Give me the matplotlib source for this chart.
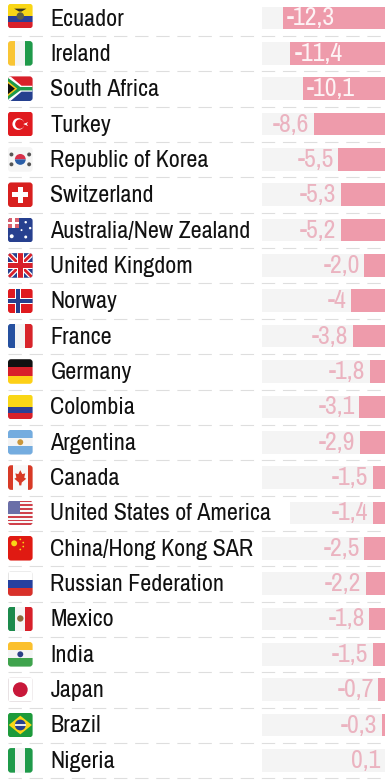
import matplotlib
matplotlib.use("Agg")
import matplotlib.pyplot as plt
from matplotlib import font_manager as fm
from matplotlib.patches import FancyBboxPatch, Rectangle, Circle, Polygon, Wedge

countries = ["Ecuador", "Ireland", "South Africa", "Turkey", "Republic of Korea", "Switzerland",
             "Australia/New Zealand", "United Kingdom", "Norway", "France", "Germany", "Colombia",
             "Argentina", "Canada", "United States of America", "China/Hong Kong SAR",
             "Russian Federation", "Mexico", "India", "Japan", "Brazil", "Nigeria"]
# Bar lengths as drawn in the picture (United Kingdom and South Africa are drawn off their printed label)
bar_values = [-12.3, -11.4, -9.9, -8.6, -5.6, -5.3, -5.3, -2.5, -4.1, -3.9, -1.8, -3.1, -3.0, -1.5,
              -1.5, -2.5, -2.3, -1.9, -1.5, -0.8, -0.4, 0.1]
value_labels = ["-12,3", "-11,4", "-10,1", "-8,6", "-5,5", "-5,3", "-5,2", "-2,0", "-4", "-3,8", "-1,8",
                "-3,1", "-2,9", "-1,5", "-1,4", "-2,5", "-2,2", "-1,8", "-1,5", "-0,7", "-0,3", "0,1"]

names = {f.name for f in fm.fontManager.ttflist}
FONT = next(n for n in ["Archivo Narrow", "Roboto Condensed", "Liberation Sans", "DejaVu Sans"] if n in names)
W, H = 389, 781
fig = plt.figure(figsize=(W / 100, H / 100), dpi=100, facecolor="white")
page = fig.add_axes([0, 0, 1, 1])
page.set_xlim(0, W); page.set_ylim(H, 0); page.axis("off")

PINK = "#ee9bab"; GREY = "#f4f4f4"; LABEL = "#ebb3c0"
ROW0, PITCH = 18.0, 35.35
for i, name in enumerate(countries):
    y = ROW0 + i * PITCH
    page.plot([8, 385], [y + 18, y + 18], color="#dedede", lw=0.8, dashes=(12, 7))
    page.text(50.5, y + 7.5, name, family=FONT, fontsize=17.3, color="#111111", va="baseline", ha="left")

XMIN = -14.8  # value at the left edge of the grey band
bars = fig.add_axes([262 / W, 0, 123 / W, 1])
bars.set_xlim(XMIN, 0)
bars.set_ylim((H - ROW0) / PITCH, -ROW0 / PITCH)
bars.axis("off"); bars.patch.set_alpha(0)
for i, (v, lab) in enumerate(zip(bar_values, value_labels)):
    left = XMIN if countries[i] != "United States of America" else -11.4
    bars.barh(i, -left, left=left, height=0.64, color=GREY, zorder=1)
    if v < 0:
        bars.barh(i, -v, left=v, height=0.64, color=PINK, zorder=2)
    base = i + 7.5 / PITCH
    if v <= -9:
        bars.text(v + 0.5, base, lab, family=FONT, fontsize=18.6, color="#fdf3f5", va="baseline", ha="left", zorder=3)
    else:
        bars.text(min(v, 0) - 0.55, base, lab, family=FONT, fontsize=18.6, color=LABEL, va="baseline", ha="right", zorder=3)


def flag(i, draw):
    y = ROW0 + i * PITCH - (2 if i == 0 else 0)
    x0, y0, w, h = 8, y - 12.3, 24.6, 24.6
    clip = FancyBboxPatch((x0 + 3, y0 + 3), w - 6, h - 6, boxstyle="round,pad=3", fc="none", ec="none")
    page.add_patch(clip)
    def add(p):
        page.add_patch(p); p.set_clip_path(clip)
    def R(a, b, c, d, col):
        add(Rectangle((x0 + a * w, y0 + b * h), c * w, d * h, fc=col, ec="none"))
    def C(a, b, r, col):
        add(Circle((x0 + a * w, y0 + b * h), r * w, fc=col, ec="none"))
    def P(pts, col):
        add(Polygon([(x0 + a * w, y0 + b * h) for a, b in pts], fc=col, ec="none"))
    def Wd(a, b, r, t1, t2, col):
        add(Wedge((x0 + a * w, y0 + b * h), r * w, t1, t2, fc=col, ec="none"))
    draw(R, C, P, Wd)

def tricolor_v(a, b, c, s=0.29):
    return lambda R, C, P, Wd: (R(0, 0, 1, 1, b), R(0, 0, s, 1, a), R(1 - s, 0, s, 1, c))
def tricolor_h(a, b, c):
    return lambda R, C, P, Wd: (R(0, 0, 1, 1/3, a), R(0, 1/3, 1, 1/3, b), R(0, 2/3, 1, 1/3, c))

def turkey(R, C, P, Wd):
    R(0, 0, 1, 1, "#e01a1f"); C(.42, .5, .24, "white"); C(.48, .5, .19, "#e01a1f")
    P([(.62, .5), (.82, .42), (.76, .5), (.82, .58)], "white")
def korea(R, C, P, Wd):
    R(0, 0, 1, 1, "#f5f5f5"); Wd(.5, .5, .22, 180, 360, "#d9304a"); Wd(.5, .5, .22, 0, 180, "#2a5ea8")
    for a, b in [(.14, .3), (.86, .3), (.14, .7), (.86, .7)]:
        C(a, b, .08, "#555555")
def swiss(R, C, P, Wd):
    R(0, 0, 1, 1, "#d8201f"); R(.39, .17, .22, .66, "white"); R(.17, .39, .66, .22, "white")
def aus(R, C, P, Wd):
    R(0, 0, 1, 1, "#27408f"); R(0, 0, .45, .4, "#d9606e"); R(0, .16, .45, .08, "white"); R(.18, 0, .09, .4, "white")
    for a, b, r in [(.72, .18, .05), (.9, .42, .05), (.72, .78, .06), (.55, .5, .04), (.15, .75, .08)]:
        C(a, b, r, "white")
def uk(R, C, P, Wd):
    R(0, 0, 1, 1, "#25408f")
    P([(0, 0), (.15, 0), (1, .85), (1, 1), (.85, 1), (0, .15)], "white")
    P([(1, 0), (.85, 0), (0, .85), (0, 1), (.15, 1), (1, .15)], "white")
    P([(0, 0), (.08, 0), (1, .92), (1, 1), (.92, 1), (0, .08)], "#d8202a")
    P([(1, 0), (.92, 0), (0, .92), (0, 1), (.08, 1), (1, .08)], "#d8202a")
    R(.35, 0, .3, 1, "white"); R(0, .35, 1, .3, "white")
    R(.41, 0, .18, 1, "#d8202a"); R(0, .41, 1, .18, "#d8202a")
def norway(R, C, P, Wd):
    R(0, 0, 1, 1, "#e01a1f"); R(.28, 0, .26, 1, "white"); R(0, .37, 1, .26, "white")
    R(.34, 0, .13, 1, "#25408f"); R(0, .44, 1, .13, "#25408f")
def ecuador(R, C, P, Wd):
    R(0, 0, 1, .5, "#f9d616"); R(0, .5, 1, .25, "#2b3f96"); R(0, .75, 1, .25, "#d8202a")
    C(.5, .5, .15, "#5f5f45"); P([(.25, .2), (.75, .2), (.55, .32), (.45, .32)], "#333326")
def colombia(R, C, P, Wd):
    R(0, 0, 1, .5, "#f9d616"); R(0, .5, 1, .25, "#2b3f96"); R(0, .75, 1, .25, "#d8202a")
def safrica(R, C, P, Wd):
    R(0, 0, 1, .5, "#d8202a"); R(0, .5, 1, .5, "#25408f")
    P([(0, 0), (.1, 0), (.55, .38), (1, .38), (1, .62), (.55, .62), (.1, 1), (0, 1)], "white")
    P([(0, .06), (.5, .43), (1, .43), (1, .57), (.5, .57), (0, .94)], "#1d9a4b")
    P([(0, .2), (.38, .5), (0, .8)], "#f9c518")
    P([(0, .28), (.28, .5), (0, .72)], "#111111")
def argentina(R, C, P, Wd):
    R(0, 0, 1, 1, "#f4f4f4"); R(0, 0, 1, 1/3, "#74acdf"); R(0, 2/3, 1, 1/3, "#74acdf"); C(.5, .5, .12, "#c9963a")
def canada(R, C, P, Wd):
    R(0, 0, 1, 1, "#f8f8f8"); R(0, 0, .2, 1, "#d83a26"); R(.8, 0, .2, 1, "#d83a26")
    P([(.5, .2), (.58, .36), (.7, .33), (.66, .5), (.74, .55), (.56, .7), (.54, .82), (.46, .82), (.44, .7),
       (.26, .55), (.34, .5), (.3, .33), (.42, .36)], "#d83a26")
def usa(R, C, P, Wd):
    R(0, 0, 1, 1, "#f8f8f8")
    for k in range(0, 13, 2):
        R(0, k / 13, 1, 1 / 13, "#d0404a")
    R(0, 0, .5, 7 / 13, "#6a6fa8")
def china(R, C, P, Wd):
    R(0, 0, 1, 1, "#e01a12"); C(.25, .3, .12, "#f9d616")
    for a, b in [(.5, .14), (.62, .27), (.62, .43), (.5, .55)]:
        C(a, b, .035, "#f9d616")
def mexico(R, C, P, Wd):
    R(0, 0, 1, 1, "#f5f5f5"); R(0, 0, .29, 1, "#1c8a4c"); R(.71, 0, .29, 1, "#d8202a"); C(.5, .48, .13, "#8a6a3c")
def brazil(R, C, P, Wd):
    R(0, 0, 1, 1, "#1d9a3b"); P([(.03, .5), (.5, .12), (.97, .5), (.5, .88)], "#f9d616"); C(.5, .5, .22, "#27408f"); R(.28, .47, .44, .06, "#e8e8e8")
def japan(R, C, P, Wd):
    R(0, 0, 1, 1, "#e8e2e4"); R(.03, .03, .94, .94, "white"); C(.5, .5, .3, "#c8183a")
def india(R, C, P, Wd):
    tricolor_h("#fbc02d", "#f4f4f4", "#3fa34d")(R, C, P, Wd); C(.5, .5, .12, "#2b3f86")
def russia(R, C, P, Wd):
    R(0, 0, 1, 1, "#e4e4e4"); R(.03, .03, .94, .4, "white"); R(0, 1/3, 1, 1/3, "#25409f"); R(0, 2/3, 1, 1/3, "#d8302a")

draws = [ecuador, tricolor_v("#f9c535", "#f4f4f4", "#1f9a4a"), safrica, turkey, korea, swiss, aus, uk, norway,
         tricolor_v("#25509f", "#f4f4f4", "#d8242a"), tricolor_h("#111111", "#d8202a", "#fdd016"), colombia,
         argentina, canada, usa, china, russia, mexico, india, japan, brazil,
         tricolor_v("#1f9a4a", "#f4f4f4", "#1f9a4a")]
for i, d in enumerate(draws):
    flag(i, d)

fig.savefig("out.png", dpi=100)
